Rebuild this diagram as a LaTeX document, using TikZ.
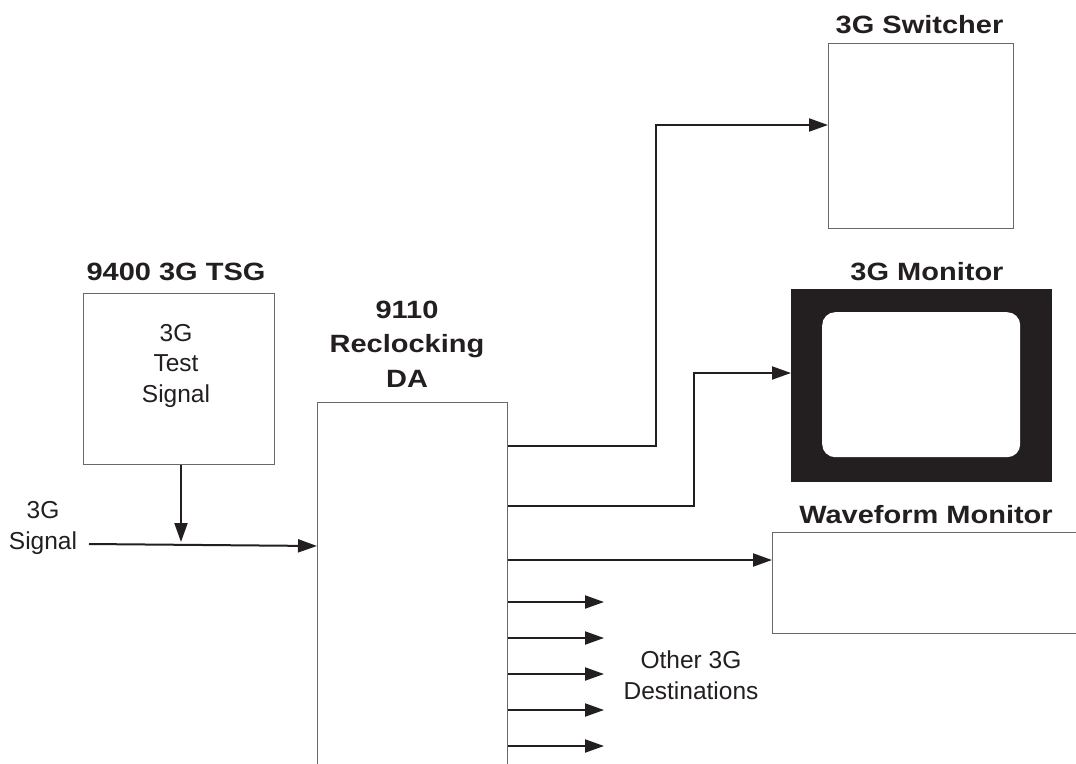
\documentclass[tikz,border=0pt]{standalone}
\usepackage{fontspec}
\setmainfont{Liberation Sans}
\newfontfamily\titlefont{Liberation Sans}[FakeStretch=1.16]
\usetikzlibrary{arrows.meta,calc}
\definecolor{ink}{RGB}{35,31,32}
\definecolor{boxgray}{RGB}{105,105,108}
\begin{document}
\begin{tikzpicture}[x=1pt,y=-1pt,
  box/.style={draw=boxgray, line width=1.4pt, inner sep=0pt, anchor=north west},
  conn/.style={draw=ink, line width=2pt, -{Triangle[length=19pt,width=13pt]}},
  title/.style={font=\titlefont\bfseries\fontsize{25}{34.5}\selectfont, text=ink, align=center, inner sep=0pt},
  lbl/.style={font=\fontsize{24.5}{30.5}\selectfont, text=ink, align=center, inner sep=0pt}]
\useasboundingbox (0,0) rectangle (1076,763);

% boxes
\node[box, minimum width=191pt, minimum height=171pt] (tsg) at (83,293) {};
\node[box, minimum width=190pt, minimum height=420pt] (da) at (317,402) {};
\node[box, minimum width=185pt, minimum height=185pt] (sw) at (828,43) {};
\node[box, minimum width=330pt, minimum height=101pt] (wf) at (772,532) {};
\node[fill=ink, inner sep=0pt, anchor=north west, minimum width=261pt, minimum height=193pt] (mon) at (791,289) {};
\node[fill=white, rounded corners=13pt, inner sep=0pt, anchor=north west, minimum width=198pt, minimum height=145pt] (scr) at (822,312) {};

% titles (base anchor = baseline of the last line)
\node[title, anchor=base] (tsgt) at (176,280) {9400 3G TSG};
\node[title, anchor=base] (dat) at (407,387) {9110\\Reclocking\\DA};
\node[title, anchor=base] (swt) at (919.5,33) {3G Switcher};
\node[title, anchor=base] (mont) at (927,280) {3G Monitor};
\node[title, anchor=base] (wft) at (926,523) {Waveform Monitor};

% labels
\node[lbl, anchor=base] (tsgl) at (176,402) {3G\\Test\\Signal};
\node[lbl, anchor=base] (sigl) at (43,549) {3G\\Signal};
\node[lbl, anchor=base] (othl) at (691,699) {Other 3G\\Destinations};

% connectors
\coordinate (join) at (181,542);
\coordinate (sig) at (89,544);
\draw[conn] (tsg.south -| join) -- (join);
\draw[conn] (sig) -- (da.west |- 0,546);
\draw[conn] (da.east |- 0,446) -- ++(148,0) |- (sw.west |- 0,125);
\draw[conn] (da.east |- 0,506) -- ++(186,0) |- (mon.west |- 0,373);
\draw[conn] (da.east |- 0,560) -- (wf.west |- 0,560);
\foreach \yy [count=\i] in {602,638,674,710,746} {
  \coordinate (od\i) at (604,\yy);
  \draw[conn] (da.east |- od\i) -- (od\i);
}
\end{tikzpicture}
\end{document}
